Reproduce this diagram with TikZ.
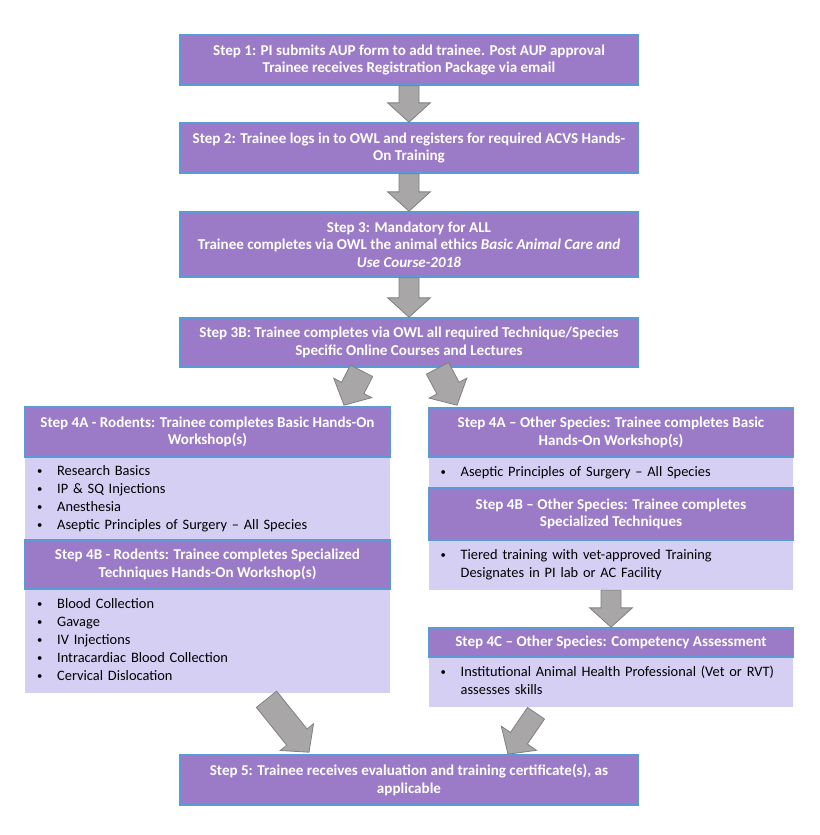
\documentclass[tikz,border=0pt]{standalone}
\usepackage{fontspec}
\setmainfont{Carlito}
\usetikzlibrary{calc}
\definecolor{stepfill}{HTML}{9B7BC7}
\definecolor{stepline}{HTML}{5B9BD5}
\definecolor{listfill}{HTML}{D5CFF3}
\definecolor{arrowfill}{HTML}{A8A6A6}
\definecolor{arrowline}{HTML}{808080}
\newcommand{\bul}{\raisebox{0.1ex}{\fontsize{8}{8}\selectfont\textbullet}}
\begin{document}
\begin{tikzpicture}[
  x=0.75pt, y=-0.75pt,
  stepbox/.style={draw=stepline, line width=1.2pt, fill=stepfill, text=white, font=\fontsize{11.3}{13.1}\selectfont\bfseries, align=center, minimum width=343.5pt},
  colbox/.style={stepbox, minimum width=273.5pt},
  listbox/.style={fill=listfill, text width=255.5pt, inner xsep=9pt, inner ysep=0pt, align=left, font=\fontsize{10.8}{13.5}\selectfont},
  blockarrow/.style={draw=arrowline, fill=arrowfill, line width=0.6pt,
    to path={
      ($(\tikztotarget)!14.5pt!(\tikztostart)$) coordinate (hb)
      ($(\tikztostart)!#1!90:(\tikztotarget)$)
      -- ($(hb)!#1!90:(\tikztotarget)$)
      -- ($(hb)!16pt!90:(\tikztotarget)$)
      -- (\tikztotarget)
      -- ($(hb)!16pt!-90:(\tikztotarget)$)
      -- ($(hb)!#1!-90:(\tikztotarget)$)
      -- ($(\tikztostart)!#1!-90:(\tikztotarget)$)
      -- cycle}},
  blockarrow/.default=7.5pt,
]
  \path[use as bounding box, fill=white] (0,0) rectangle (820,835);

  \node[stepbox, minimum height=37.5pt]  (s1)  at (409, 60)    {Step 1: PI submits AUP form to add trainee. Post AUP approval\\Trainee receives Registration Package via email};
  \node[stepbox, minimum height=37.5pt]  (s2)  at (409, 148)   {Step 2: Trainee logs in to OWL and registers for required ACVS Hands-\\On Training};
  \node[stepbox, minimum height=48.75pt] (s3)  at (409, 244.5) {Step 3: Mandatory for ALL\\Trainee completes via OWL the animal ethics \textit{Basic Animal Care and}\\\textit{Use Course-2018}};
  \node[stepbox, minimum height=36.75pt] (s3b) at (409, 342.5) {Step 3B: Trainee completes via OWL all required Technique/Species\\Specific Online Courses and Lectures};

  \node[listbox, minimum height=62.25pt] (r4al) at (207.5, 498.5) {\begin{tabular}{@{}p{15pt}@{}l@{}}
    \bul & Research Basics\\ \bul & IP \& SQ Injections\\ \bul & Anesthesia\\ \bul & Aseptic Principles of Surgery – All Species\end{tabular}};
  \node[listbox, minimum height=78pt]    (r4bl) at (207.5, 641)   {\begin{tabular}{@{}p{15pt}@{}l@{}}
    \bul & Blood Collection\\ \bul & Gavage\\ \bul & IV Injections\\ \bul & Intracardiac Blood Collection\\ \bul & Cervical Dislocation\end{tabular}};
  \node[colbox, minimum height=37.5pt]   (r4a)  at (207.5, 432)   {Step 4A - Rodents: Trainee completes Basic Hands-On\\Workshop(s)};
  \node[colbox, minimum height=36.75pt]  (r4b)  at (207.5, 564.5) {Step 4B - Rodents: Trainee completes Specialized\\Techniques Hands-On Workshop(s)};

  \node[listbox, minimum height=23.25pt] (o4al) at (611, 472.5) {\begin{tabular}{@{}p{15pt}@{}l@{}}
    \bul & Aseptic Principles of Surgery – All Species\end{tabular}};
  \node[listbox, minimum height=37.5pt]  (o4bl) at (611, 565)   {\begin{tabular}{@{}p{15pt}@{}l@{}}
    \bul & Tiered training with vet-approved Training\\ & Designates in PI lab or AC Facility\end{tabular}};
  \node[listbox, minimum height=37.5pt]  (o4cl) at (611, 682)   {\begin{tabular}{@{}p{15pt}@{}l@{}}
    \bul & Institutional Animal Health Professional (Vet or RVT)\\ & assesses skills\end{tabular}};
  \node[colbox, minimum height=36.75pt]  (o4a)  at (611, 432.5) {Step 4A – Other Species: Trainee completes Basic\\Hands-On Workshop(s)};
  \node[colbox, minimum height=39pt]     (o4b)  at (611, 514)   {Step 4B – Other Species: Trainee completes\\Specialized Techniques};
  \node[colbox, minimum height=21.75pt]  (o4c)  at (611, 642.5) {Step 4C – Other Species: Competency Assessment};

  \node[stepbox, minimum height=37.5pt]  (s5)  at (409, 780)   {Step 5: Trainee receives evaluation and training certificate(s), as\\applicable};

  \coordinate (a3l) at ($(s3b.south)+(-47.5,3)$);
  \coordinate (t4r) at ($(r4a.north)+(136.5,-1)$);
  \coordinate (a3r) at ($(s3b.south)+(28.5,0.5)$);
  \coordinate (t4o) at ($(o4a.north)+(-154,-2)$);
  \coordinate (a5l) at ($(r4bl.south)+(59,6)$);
  \coordinate (t5l) at ($(s5.north)+(-100,-2)$);
  \coordinate (a5r) at ($(o4cl.south)+(-75,6)$);
  \coordinate (t5r) at ($(s5.north)+(99,0)$);

  \draw[blockarrow] (s1.south) to (s2.north);
  \draw[blockarrow] (s2.south) to (s3.north);
  \draw[blockarrow] (s3.south) to (s3b.north);
  \draw[blockarrow=9.4pt] (a3l) to (t4r);
  \draw[blockarrow=9.4pt] (a3r) to (t4o);
  \draw[blockarrow] (o4bl.south) to (o4c.north);
  \draw[blockarrow=9.75pt] (a5l) to (t5l);
  \draw[blockarrow=7.7pt] (a5r) to (t5r);
\end{tikzpicture}
\end{document}
